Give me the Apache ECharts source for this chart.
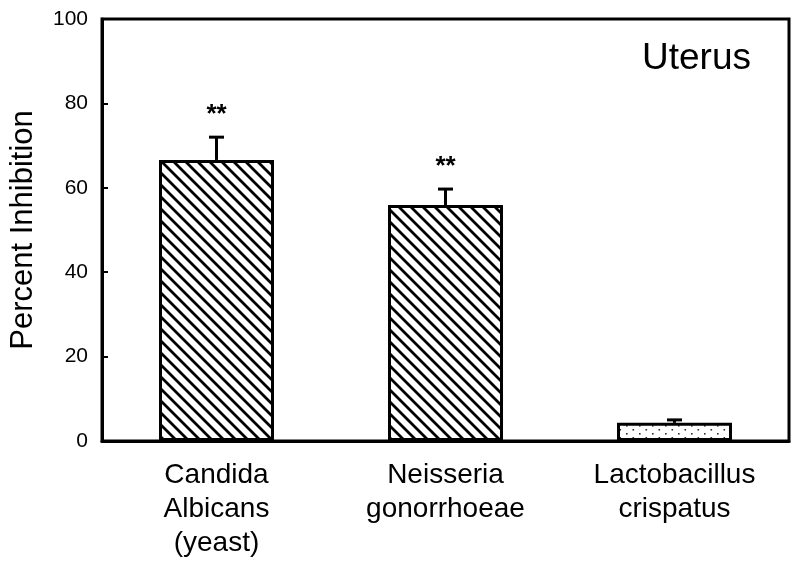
<!DOCTYPE html>
<html>
<head>
<meta charset="utf-8">
<script src="https://cdn.jsdelivr.net/npm/echarts@6/dist/echarts.min.js"></script>
<style>html,body{margin:0;padding:0;background:#fff}#c{width:800px;height:571px}</style>
</head>
<body>
<div id="c"></div>
<script>
var categories = ['Candida\nAlbicans\n(yeast)', 'Neisseria\ngonorrhoeae', 'Lactobacillus\ncrispatus'];
var values = [66.6, 55.9, 4.3];
var errors = [5.4, 3.8, 0.7];
var significance = ['**', '**', ''];
var yTicks = [0, 20, 40, 60, 80, 100];
var panelTitle = 'Uterus';
var yName = 'Percent Inhibition';

function hatchPattern() {
  var s = 12, c = document.createElement('canvas');
  c.width = s; c.height = s;
  var g = c.getContext('2d');
  g.fillStyle = '#fff'; g.fillRect(0, 0, s, s);
  g.strokeStyle = '#000'; g.lineWidth = 2.8;
  g.beginPath();
  g.moveTo(-2, -2); g.lineTo(s + 2, s + 2);
  g.moveTo(-2 - s, -2); g.lineTo(2, s + 2);
  g.moveTo(s - 2, -2); g.lineTo(2 * s + 2, s + 2);
  g.stroke();
  return c;
}
function dotPattern() {
  var w = 13, h = 8, c = document.createElement('canvas');
  c.width = w; c.height = h;
  var g = c.getContext('2d');
  g.fillStyle = '#fff'; g.fillRect(0, 0, w, h);
  g.fillStyle = '#333';
  g.fillRect(2, 1, 1.6, 1.6);
  g.fillRect(8.5, 5, 1.6, 1.6);
  return c;
}
var hatch = {image: hatchPattern(), repeat: 'repeat'};
var dots = {image: dotPattern(), repeat: 'repeat'};
var fills = [hatch, hatch, dots];

var chart = echarts.init(document.getElementById('c'), null, {renderer: 'canvas'});
var FONT = 'Liberation Sans, Arial, sans-serif';
chart.setOption({
  animation: false,
  backgroundColor: '#fff',
  grid: {left: 101, right: 11, top: 19, bottom: 130, show: true, borderColor: '#000', borderWidth: 3, backgroundColor: 'transparent'},
  graphic: [{
    type: 'text', left: 642, top: 40,
    style: {text: panelTitle, font: '37px ' + FONT, fill: '#000'}
  }],
  xAxis: {
    type: 'category', data: categories,
    axisLine: {show: true, lineStyle: {color: '#000', width: 3}},
    axisTick: {show: false},
    axisLabel: {color: '#000', fontSize: 28, fontFamily: FONT, lineHeight: 34, margin: 17, interval: 0}
  },
  yAxis: {
    type: 'value', min: 0, max: 100, interval: 20,
    name: yName, nameLocation: 'middle', nameGap: 63,
    nameTextStyle: {color: '#000', fontSize: 31, fontFamily: FONT},
    splitLine: {show: false},
    axisLine: {show: true, lineStyle: {color: '#000', width: 3}},
    axisTick: {show: true, inside: true, length: 6, lineStyle: {color: '#000', width: 2}},
    axisLabel: {color: '#000', fontSize: 21, fontFamily: FONT, margin: 14,
      formatter: function (v) { return yTicks.indexOf(v) >= 0 ? String(v) : ''; }}
  },
  series: [{
    type: 'bar',
    data: values.map(function (v, i) { return {value: v, itemStyle: {color: fills[i]}}; }),
    barWidth: 115,
    itemStyle: {borderColor: '#000', borderWidth: 3},
    z: 2
  }, {
    type: 'custom',
    data: values.map(function (v, i) { return [i, v, v + errors[i]]; }),
    z: 3,
    renderItem: function (params, api) {
      var base = api.coord([api.value(0), api.value(1)]);
      var top = api.coord([api.value(0), api.value(2)]);
      var star = significance[params.dataIndex];
      var children = [
        {type: 'line', shape: {x1: base[0], y1: base[1], x2: top[0], y2: top[1]}, style: {stroke: '#000', lineWidth: 3}},
        {type: 'line', shape: {x1: top[0] - 7.5, y1: top[1], x2: top[0] + 7.5, y2: top[1]}, style: {stroke: '#000', lineWidth: 3}}
      ];
      if (star) {
        children.push({type: 'text', x: top[0], y: top[1] - 22,
          style: {text: star, font: 'bold 26px ' + FONT, fill: '#000', align: 'center', verticalAlign: 'middle'}});
      }
      return {type: 'group', children: children};
    }
  }]
});
</script>
</body>
</html>
